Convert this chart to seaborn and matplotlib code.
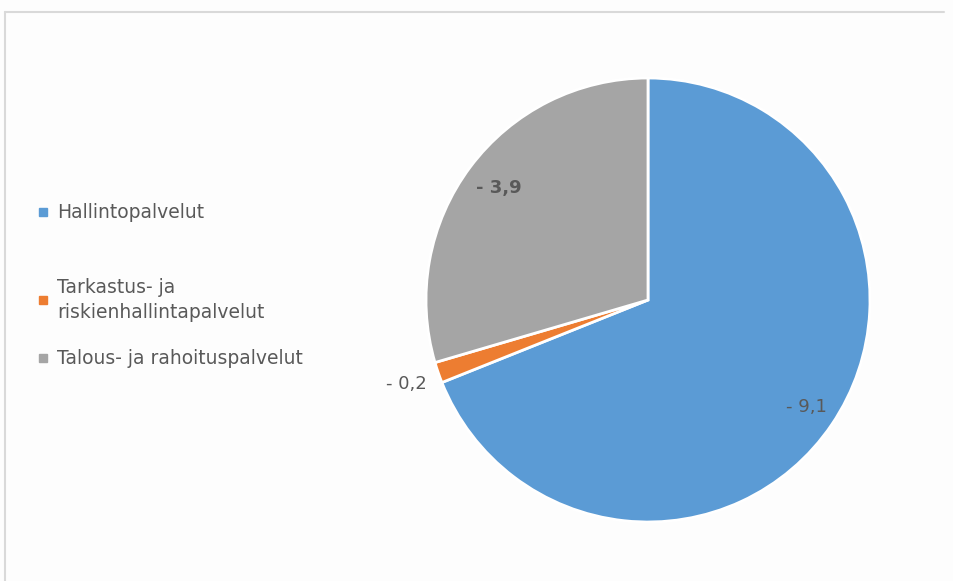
import numpy as np
import seaborn as sns
import matplotlib.pyplot as plt
from matplotlib.patches import Rectangle
from matplotlib.lines import Line2D

# data
categories = ["Hallintopalvelut", "Tarkastus- ja\nriskienhallintapalvelut", "Talous- ja rahoituspalvelut"]
values = [9.1, 0.2, 3.9]
value_labels = ["- 9,1", "- 0,2", "- 3,9"]

sns.set_theme(style="white")
plt.rcParams['font.family'] = ['DejaVu Sans']
colors = sns.color_palette(["#5B9BD5", "#ED7D31", "#A5A5A5"])
text_color = "#595959"

fig = plt.figure(figsize=(9.54, 5.81), dpi=100)
fig.patch.set_facecolor("#FDFDFD")

# chart frame (top and left edges visible in the reference)
fig.add_artist(Line2D([5 / 954, 944 / 954], [1 - 12 / 581, 1 - 12 / 581], color="#D9D9D9", lw=1.5))
fig.add_artist(Line2D([5 / 954, 5 / 954], [0, 1 - 12 / 581], color="#D9D9D9", lw=1.5))

ax = fig.add_axes([426 / 954, 59 / 581, 444 / 954, 444 / 581])
wedges, _ = ax.pie(values, colors=colors, startangle=90, counterclock=False,
                   wedgeprops=dict(edgecolor="white", linewidth=2))
ax.set_xlim(-1, 1)
ax.set_ylim(-1, 1)
ax.set_aspect("equal")

# value labels, placed along each wedge's middle angle
dists = [0.86, 1.15, 0.84]
weights = ["normal", "normal", "bold"]
for w, lab, d, fw in zip(wedges, value_labels, dists, weights):
    ang = np.deg2rad((w.theta1 + w.theta2) / 2)
    ax.text(d * np.cos(ang), d * np.sin(ang), lab, ha="center", va="center",
            fontsize=13, color=text_color, fontweight=fw)

# legend on the left
legend_y = [212, 300, 358]
for cat, col, y in zip(categories, colors, legend_y):
    yf = 1 - y / 581
    fig.add_artist(Rectangle((39 / 954, yf - 4 / 581), 8 / 954, 8 / 581,
                             transform=fig.transFigure, color=col))
    fig.text(57 / 954, yf, cat, ha="left", va="center", fontsize=13.5,
             color=text_color, linespacing=1.45)

fig.savefig("out.png", dpi=100, facecolor=fig.get_facecolor())
